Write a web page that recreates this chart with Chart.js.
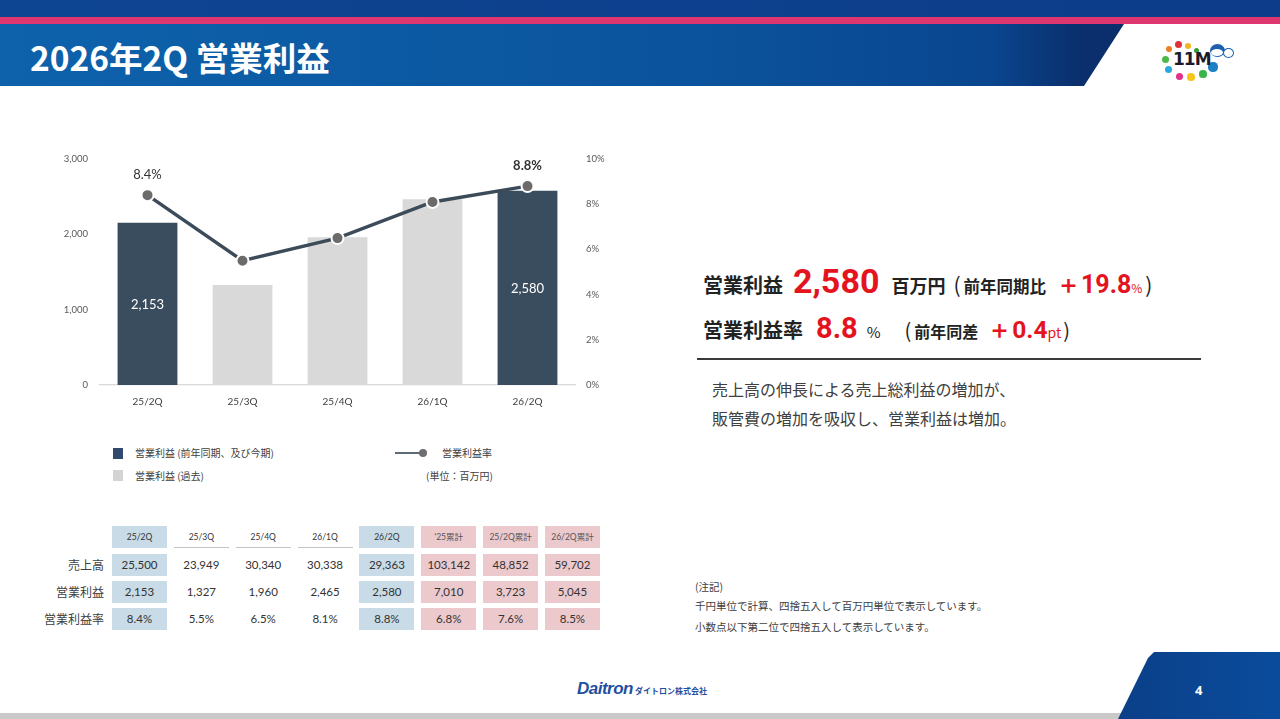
<!DOCTYPE html>
<html lang="ja">
<head>
<meta charset="utf-8">
<script src="https://cdn.jsdelivr.net/npm/chart.js@4.4.1/dist/chart.umd.min.js"></script>
<style>
  html,body{margin:0;padding:0;background:#fff;}
  body{width:1280px;height:719px;position:relative;overflow:hidden;font-family:"Noto Sans CJK JP","Noto Sans",sans-serif;color:#333;}
  .abs{position:absolute;}
  #topband{left:0;top:0;width:1280px;height:17px;background:linear-gradient(90deg,#0e4592,#0c3c8a);}
  #pink{left:0;top:17px;width:1280px;height:7px;background:#e0366f;}
  #titleband{left:0;top:24px;width:1125px;height:62px;background:linear-gradient(90deg,#0d62ab 0%,#0b549d 60%,#0a4690 88%,#0a2f6c 96%);clip-path:polygon(0 0,1124px 0,1084px 62px,0 62px);}
  #title{left:30px;top:34px;font-size:33.5px;font-weight:700;color:#fff;letter-spacing:0px;white-space:nowrap;line-height:46px;}
  #chartwrap{left:40px;top:140px;width:580px;height:280px;}
  .leg{font-size:10px;color:#404040;white-space:nowrap;line-height:12px;}
  .sq{width:10px;height:11px;}
  .cell{position:absolute;height:22px;line-height:22px;text-align:center;font-family:Lato,"Noto Sans CJK JP",sans-serif;color:#333;white-space:nowrap;}
  .hdr{font-size:8.5px;}
  .val{font-size:11.5px;}
  .rowlab{position:absolute;font-size:12px;color:#404040;text-align:right;white-space:nowrap;line-height:22px;}
  #kpi1,#kpi2{left:703px;white-space:nowrap;font-weight:700;color:#222;display:flex;align-items:baseline;}
  .red{color:#e3141d;}
  #rule{left:697px;top:358px;width:504px;height:2px;background:#3a3a3a;}
  .body{left:712px;font-size:16px;color:#404040;white-space:nowrap;font-weight:400;}
  .note{left:695px;font-size:10.5px;color:#404040;white-space:nowrap;}
  #bottomgray{left:0;top:713px;width:1280px;height:6px;background:#c9c9c9;}
  #footblue{left:1118px;top:652px;width:162px;height:67px;background:linear-gradient(90deg,#0b3f88,#0a4c9c);clip-path:polygon(36px 0,162px 0,162px 67px,0 67px,30px 6px);border-top-left-radius:12px;}
  .dot{position:absolute;border-radius:50%;}
</style>
</head>
<body>
<div id="topband" class="abs"></div>
<div id="pink" class="abs"></div>
<div id="titleband" class="abs"></div>
<div id="title" class="abs">2026年2Q 営業利益</div>

<!-- logo -->
<div id="logo"></div>

<div id="chartwrap" class="abs"><canvas id="c" width="580" height="280"></canvas></div>

<!-- legend -->
<div class="abs sq" style="left:113px;top:448px;background:#2f4a6e;"></div>
<div class="abs leg" style="left:135px;top:447px;">営業利益 (前年同期、及び今期)</div>
<div class="abs sq" style="left:113px;top:470px;background:#d4d4d4;"></div>
<div class="abs leg" style="left:135px;top:470px;">営業利益 (過去)</div>
<div class="abs" style="left:395px;top:452px;width:28px;height:2px;background:#5d6a75;"></div>
<div class="dot" style="left:419px;top:449px;width:8px;height:8px;background:#6e6e6e;"></div>
<div class="abs leg" style="left:442px;top:447px;">営業利益率</div>
<div class="abs leg" style="left:426px;top:470px;">(単位：百万円)</div>

<div id="table"></div>

<!-- KPI text -->
<div id="kpi1" class="abs" style="top:261px;">
  <span style="font-size:20px;">営業利益</span>
  <span class="red" style="font-size:34px;margin-left:10px;font-family:Roboto,'Noto Sans',sans-serif;">2,580</span>
  <span style="font-size:18px;margin-left:12px;">百万円</span>
  <span style="font-size:21px;margin-left:8px;font-weight:400;">(</span>
  <span style="font-size:16.5px;margin-left:3px;">前年同期比</span>
  <span class="red" style="font-size:25px;margin-left:10px;font-family:Roboto,'Noto Sans',sans-serif;">＋19.8</span>
  <span class="red" style="font-size:12px;font-weight:400;">%</span>
  <span style="font-size:21px;font-weight:400;margin-left:3px;">)</span>
</div>
<div id="kpi2" class="abs" style="top:311px;">
  <span style="font-size:20px;">営業利益率</span>
  <span class="red" style="font-size:29px;margin-left:13px;font-family:Roboto,'Noto Sans',sans-serif;">8.8</span>
  <span style="font-size:15px;margin-left:9px;font-weight:400;">%</span>
  <span style="font-size:20px;margin-left:24px;font-weight:400;">(</span>
  <span style="font-size:16px;margin-left:3px;">前年同差</span>
  <span class="red" style="font-size:24.5px;margin-left:9px;font-family:Roboto,'Noto Sans',sans-serif;">＋0.4</span>
  <span class="red" style="font-size:14px;font-weight:400;">pt</span>
  <span style="font-size:20px;font-weight:400;margin-left:2px;">)</span>
</div>
<div id="rule" class="abs"></div>
<div class="abs body" style="top:377px;">売上高の伸長による売上総利益の増加が、</div>
<div class="abs body" style="top:406px;">販管費の増加を吸収し、営業利益は増加。</div>

<div class="abs note" style="top:579px;">(注記)</div>
<div class="abs note" style="top:598px;">千円単位で計算、四捨五入して百万円単位で表示しています。</div>
<div class="abs note" style="top:619px;">小数点以下第二位で四捨五入して表示しています。</div>

<!-- footer -->
<div id="bottomgray" class="abs"></div>
<div id="footblue" class="abs"></div>
<div class="abs" style="left:1195px;top:681px;color:#fff;font-size:13px;font-weight:700;font-family:'Noto Sans',sans-serif;">4</div>
<div class="abs" style="left:577px;top:679px;white-space:nowrap;display:flex;align-items:baseline;">
  <span style="font-family:'Liberation Sans',sans-serif;font-style:italic;font-weight:700;font-size:17px;color:#1f4f9f;letter-spacing:-0.5px;">Daitron</span>
  <span style="font-size:8px;font-weight:700;color:#1f4f9f;margin-left:2px;">ダイトロン株式会社</span>
</div>

<script>
// ---------- data ----------
const categories = ['25/2Q', '25/3Q', '25/4Q', '26/1Q', '26/2Q'];
const operatingProfit = [2153, 1327, 1960, 2465, 2580];
const operatingMargin = [8.4, 5.5, 6.5, 8.1, 8.8];
const highlightPeriods = ['25/2Q', '26/2Q'];
const leftTicks = [0, 1000, 2000, 3000];
const rightTicks = [0, 2, 4, 6, 8, 10];

const tableCols = ['25/2Q', '25/3Q', '25/4Q', '26/1Q', '26/2Q', "'25累計", '25/2Q累計', '26/2Q累計'];
const tableColKind = ['cur', 'past', 'past', 'past', 'cur', 'cum', 'cum', 'cum'];
const rowLabels = ['売上高', '営業利益', '営業利益率'];
const salesRow = ['25,500', '23,949', '30,340', '30,338', '29,363', '103,142', '48,852', '59,702'];
const profitRow = ['2,153', '1,327', '1,960', '2,465', '2,580', '7,010', '3,723', '5,045'];
const marginRow = ['8.4%', '5.5%', '6.5%', '8.1%', '8.8%', '6.8%', '7.6%', '8.5%'];

// ---------- table ----------
(function () {
  const t = document.getElementById('table');
  const x0 = 112, pitch = 61.85, w = 55;
  const fills = { cur: '#c8dbe6', cum: '#ecc9cd', past: 'transparent' };
  const rows = [salesRow, profitRow, marginRow];
  const rowTops = [554, 581, 608];
  tableCols.forEach((c, i) => {
    const d = document.createElement('div');
    d.className = 'cell hdr';
    d.style.left = (x0 + i * pitch) + 'px';
    d.style.top = '526px';
    d.style.width = w + 'px';
    d.style.background = fills[tableColKind[i]];
    if (tableColKind[i] === 'past') {
      d.style.height = '21px';
      d.style.borderBottom = '1.5px solid #c4c4c4';
    }
    if (tableColKind[i] === 'cum') d.style.color = '#555';
    d.textContent = c;
    t.appendChild(d);
  });
  rows.forEach((r, ri) => {
    const lab = document.createElement('div');
    lab.className = 'rowlab';
    lab.style.right = (1280 - 104) + 'px';
    lab.style.top = rowTops[ri] + 'px';
    lab.textContent = rowLabels[ri];
    t.appendChild(lab);
    r.forEach((v, i) => {
      const d = document.createElement('div');
      d.className = 'cell val';
      d.style.left = (x0 + i * pitch) + 'px';
      d.style.top = rowTops[ri] + 'px';
      d.style.width = w + 'px';
      d.style.background = fills[tableColKind[i]];
      d.textContent = v;
      t.appendChild(d);
    });
  });
})();

// ---------- logo ----------
(function () {
  const L = document.getElementById('logo');
  const dots = [
    [1178, 44, 3.5, '#e0303a'], [1188, 46, 3.3, '#f2b51c'], [1169, 49, 3.3, '#ef7d22'],
    [1196, 50, 2.5, '#3a9a3a'], [1165, 59, 3.5, '#4cb848'], [1168, 69, 3.5, '#29a8e0'],
    [1179, 76, 3.5, '#e2318a'], [1191, 77, 3.8, '#f5c518'], [1203, 74, 3.6, '#3bb54a'],
    [1213, 67, 4.6, '#1d7fc4']
  ];
  dots.forEach(([x, y, r, c]) => {
    const d = document.createElement('div');
    d.className = 'dot';
    Object.assign(d.style, { left: (x - r) + 'px', top: (y - r) + 'px', width: 2 * r + 'px', height: 2 * r + 'px', background: c });
    L.appendChild(d);
  });
  const t = document.createElement('div');
  t.className = 'abs';
  Object.assign(t.style, { left: '1173px', top: '49px', fontFamily: "'DejaVu Sans',sans-serif", fontWeight: '900', fontSize: '17px', color: '#1a1a2a', letterSpacing: '-1px', lineHeight: '20px' });
  t.textContent = '11M';
  L.appendChild(t);
  const h = document.createElement('div');
  h.className = 'dot';
  Object.assign(h.style, { left: '1209px', top: '43px', width: '15px', height: '13px', background: '#1d5fae', border: '1px solid #fff' });
  L.appendChild(h);
  const f = document.createElement('div');
  f.className = 'dot';
  Object.assign(f.style, { left: '1211px', top: '49px', width: '12px', height: '7px', background: '#fff' });
  L.appendChild(f);
  const s = document.createElement('div');
  s.className = 'dot';
  Object.assign(s.style, { left: '1223px', top: '48px', width: '9px', height: '8px', background: '#fff', border: '1px solid #1d5fae' });
  L.appendChild(s);
})();

// ---------- chart ----------
const isHighlight = (i) => highlightPeriods.includes(categories[i]);
const labelPlugin = {
  id: 'valueLabels',
  afterDatasetsDraw(chart) {
    const ctx = chart.ctx;
    const xs = chart.scales.x, yL = chart.scales.y, yR = chart.scales.y1;
    ctx.save();
    ctx.textAlign = 'center';
    ctx.textBaseline = 'middle';
    categories.forEach((c, i) => {
      if (!isHighlight(i)) return;
      const x = xs.getPixelForValue(i);
      const top = yL.getPixelForValue(operatingProfit[i]);
      const base = yL.getPixelForValue(0);
      ctx.fillStyle = '#ffffff';
      ctx.font = '13px Lato, sans-serif';
      ctx.fillText(operatingProfit[i].toLocaleString('en-US'), x, (top + base) / 2 + 1);
      const py = yR.getPixelForValue(operatingMargin[i]);
      ctx.fillStyle = '#333333';
      ctx.font = (i === categories.length - 1 ? 'bold ' : '') + '13px Lato, sans-serif';
      ctx.fillText(operatingMargin[i].toFixed(1) + '%', x, py - 20);
    });
    ctx.restore();
  }
};

new Chart(document.getElementById('c'), {
  data: {
    labels: categories,
    datasets: [
      {
        type: 'line',
        data: operatingMargin,
        yAxisID: 'y1',
        order: 0,
        borderColor: '#3c4b59',
        borderWidth: 3.5,
        pointRadius: 6,
        pointBackgroundColor: '#6b6b6b',
        pointBorderColor: '#ffffff',
        pointBorderWidth: 2,
        tension: 0
      },
      {
        type: 'bar',
        data: operatingProfit,
        yAxisID: 'y',
        order: 1,
        backgroundColor: (ctx) => isHighlight(ctx.dataIndex) ? '#3a4d5e' : '#d9d9d9',
        categoryPercentage: 1,
        barPercentage: 0.63
      }
    ]
  },
  options: {
    responsive: false,
    animation: false,
    layout: { padding: { top: 19, bottom: 5, left: 0, right: 0 } },
    plugins: { legend: { display: false }, tooltip: { enabled: false } },
    scales: {
      x: {
        grid: { display: false },
        border: { display: true, color: '#d9d9d9', width: 1.2 },
        ticks: { font: { family: 'Lato', size: 10 }, color: '#404040', padding: 3 },
        afterFit: (s) => { s.height = 30; }
      },
      y: {
        position: 'left',
        min: 0, max: 3000,
        afterBuildTicks: (s) => { s.ticks = leftTicks.map(v => ({ value: v })); },
        ticks: { font: { family: 'Lato', size: 9.5 }, color: '#595959', padding: 4, callback: (v) => v.toLocaleString('en-US') },
        grid: { display: false },
        border: { display: false },
        afterFit: (s) => { s.width = 60; }
      },
      y1: {
        position: 'right',
        min: 0, max: 10,
        afterBuildTicks: (s) => { s.ticks = rightTicks.map(v => ({ value: v })); },
        ticks: { font: { family: 'Lato', size: 9.5 }, color: '#595959', padding: 3, callback: (v) => v + '%' },
        grid: { display: false },
        border: { display: false },
        afterFit: (s) => { s.width = 45; }
      }
    }
  },
  plugins: [labelPlugin]
});
</script>
</body>
</html>
